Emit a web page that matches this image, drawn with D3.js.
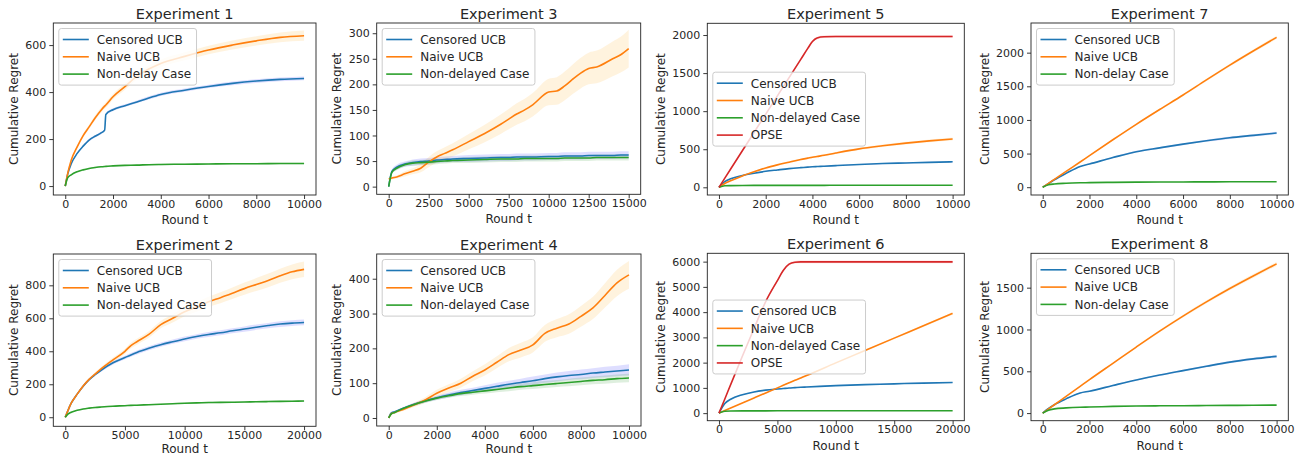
<!DOCTYPE html>
<html>
<head>
<meta charset="utf-8">
<script src="https://cdn.jsdelivr.net/npm/d3@7"></script>
<style>
  body { margin: 0; background: #fff; }
  svg { display: block; font-family: "DejaVu Sans", sans-serif; }
</style>
</head>
<body>
<div id="chart"></div>
<script>
// ---- data ----
var exp1T = [0, 100, 250, 500, 750, 1000, 1250, 1500, 1650, 1700, 2000, 2500, 3000, 3500, 4000, 5000, 6000, 7000, 8000, 9000, 10000];
var exp1Censored = [0, 50, 95, 139, 170, 196, 212, 226, 238, 305, 325, 342, 358, 375, 390, 408, 424, 437, 447, 454, 458];
var exp1Naive = [0, 52, 110, 167, 215, 252, 290, 323, 340, 345, 380, 423, 468, 498, 522, 552, 579, 600, 618, 633, 640];
var exp1NonDelay = [0, 35, 48, 61, 69, 75, 79, 82, 83, 84, 86, 88, 89, 91, 92, 93, 94, 95, 95, 96, 96];
var exp1CensoredBand = [0, 2, 3, 4, 4, 5, 5, 5, 5, 6, 6, 6, 6, 7, 7, 7, 7, 8, 8, 8, 8];
var exp1NaiveBand = [0, 3, 5, 7, 8, 9, 10, 11, 11, 12, 12, 13, 14, 15, 16, 17, 18, 19, 20, 21, 22];
var exp1NonDelayBand = [0, 2, 2, 2, 2, 3, 3, 3, 3, 3, 3, 3, 3, 3, 3, 3, 3, 3, 3, 3, 3];

var exp3T = [0, 200, 500, 1000, 1500, 2000, 2500, 3000, 3500, 4000, 5000, 6000, 7000, 7500, 8000, 8500, 9000, 10000, 10500, 11000, 11500, 12000, 12500, 13000, 14000, 14500, 15000];
var exp3Censored = [0, 30, 38, 44, 47, 49, 50, 52, 53, 54, 55, 56, 57, 57, 58, 58, 58, 59, 59, 60, 60, 60, 61, 61, 61, 62, 62];
var exp3Naive = [15, 17, 19, 25, 30, 36, 48, 58, 65, 72, 88, 104, 122, 132, 142, 150, 160, 185, 187, 197, 210, 222, 231, 234, 250, 258, 270];
var exp3NonDelayed = [0, 28, 36, 43, 46, 47, 48, 49, 50, 51, 52, 53, 54, 54, 54, 55, 55, 55, 55, 56, 56, 56, 56, 57, 57, 57, 57];
var exp3CensoredBand = [0, 4, 5, 5, 6, 6, 6, 6, 6, 6, 7, 7, 7, 7, 7, 7, 7, 7, 7, 7, 7, 7, 7, 7, 7, 7, 7];
var exp3NaiveBand = [2, 3, 3, 5, 6, 8, 10, 11, 12, 13, 15, 17, 19, 20, 21, 22, 23, 26, 27, 28, 29, 30, 31, 32, 34, 35, 37];
var exp3NonDelayedBand = [0, 3, 4, 4, 5, 5, 5, 5, 5, 5, 6, 6, 6, 6, 6, 6, 6, 6, 6, 6, 6, 6, 6, 6, 6, 6, 6];

var exp5T = [0, 250, 500, 1000, 1500, 2000, 2500, 3000, 3500, 3800, 4000, 4200, 4500, 5000, 6000, 7000, 8000, 9000, 10000];
var exp5Censored = [0, 75, 112, 155, 185, 210, 228, 245, 258, 265, 270, 273, 277, 285, 300, 312, 320, 328, 335];
var exp5Naive = [0, 50, 85, 150, 205, 255, 295, 330, 365, 383, 395, 405, 420, 450, 505, 545, 580, 610, 635];
var exp5NonDelayed = [0, 20, 22, 24, 25, 25, 25, 26, 26, 26, 26, 26, 26, 27, 27, 27, 28, 28, 28];
var exp5Opse = [0, 120, 240, 480, 720, 960, 1200, 1440, 1680, 1824, 1915, 1962, 1978, 1980, 1980, 1980, 1980, 1980, 1980];
var exp5CensoredBand = [0, 3, 4, 5, 5, 6, 6, 6, 6, 6, 7, 7, 7, 7, 7, 8, 8, 8, 8];
var exp5NaiveBand = [0, 3, 5, 7, 8, 9, 10, 11, 12, 12, 13, 13, 13, 14, 15, 16, 17, 18, 20];
var exp5NonDelayedBand = [0, 2, 2, 3, 3, 3, 3, 3, 3, 3, 3, 3, 3, 3, 3, 3, 3, 3, 3];
var exp5OpseBand = [0, 5, 8, 10, 12, 13, 14, 15, 15, 16, 16, 16, 16, 16, 16, 16, 16, 16, 16];

var exp7T = [0, 250, 500, 1000, 1600, 2000, 3000, 4000, 5000, 6000, 7000, 8000, 9000, 10000];
var exp7Censored = [0, 55, 110, 205, 308, 345, 440, 528, 585, 640, 690, 735, 770, 805];
var exp7Naive = [0, 58, 117, 235, 375, 470, 705, 935, 1155, 1370, 1595, 1815, 2025, 2228];
var exp7NonDelay = [0, 35, 48, 58, 65, 68, 72, 75, 77, 78, 79, 80, 80, 80];
var exp7CensoredBand = [0, 3, 4, 6, 8, 9, 11, 13, 14, 15, 16, 17, 18, 19];
var exp7NaiveBand = [0, 3, 4, 6, 8, 9, 11, 13, 15, 17, 19, 21, 23, 25];
var exp7NonDelayBand = [0, 2, 3, 3, 3, 4, 4, 4, 4, 4, 4, 4, 4, 4];

var exp2T = [0, 250, 500, 1000, 1500, 2000, 2500, 3000, 4000, 5000, 5500, 6000, 7000, 8000, 9000, 10000, 11000, 12000, 13000, 14000, 15000, 16000, 17000, 18000, 19000, 20000];
var exp2Censored = [0, 45, 85, 140, 188, 228, 258, 285, 330, 362, 378, 393, 418, 440, 458, 475, 490, 502, 512, 524, 535, 546, 556, 565, 571, 575];
var exp2Naive = [0, 45, 85, 140, 190, 230, 262, 293, 348, 400, 435, 458, 502, 562, 600, 640, 668, 700, 725, 752, 780, 805, 830, 858, 882, 897];
var exp2NonDelayed = [0, 20, 30, 42, 50, 55, 59, 62, 67, 70, 72, 73, 76, 79, 82, 85, 87, 89, 90, 91, 92, 94, 95, 96, 97, 98];
var exp2CensoredBand = [0, 3, 5, 6, 7, 8, 8, 9, 10, 11, 11, 12, 12, 13, 13, 14, 14, 15, 15, 15, 16, 16, 16, 17, 17, 17];
var exp2NaiveBand = [0, 3, 5, 7, 9, 10, 11, 12, 14, 16, 17, 18, 20, 22, 25, 27, 29, 31, 33, 35, 37, 39, 41, 43, 45, 47];
var exp2NonDelayedBand = [0, 2, 3, 3, 3, 4, 4, 4, 4, 4, 4, 4, 4, 4, 4, 5, 5, 5, 5, 5, 5, 5, 5, 5, 5, 5];

var exp4T = [0, 100, 250, 500, 1000, 1500, 2000, 2500, 3000, 3500, 4000, 4500, 5000, 5500, 6000, 6500, 7000, 7500, 8000, 8500, 9000, 9500, 10000];
var exp4Censored = [0, 14, 18, 25, 38, 49, 58, 66, 73, 79, 85, 91, 97, 102, 107, 113, 118, 122, 125, 129, 132, 135, 138];
var exp4Naive = [0, 12, 16, 22, 36, 51, 71, 86, 100, 120, 138, 160, 182, 195, 210, 243, 258, 270, 292, 316, 352, 388, 411];
var exp4NonDelayed = [0, 11, 16, 24, 37, 48, 57, 64, 70, 74, 78, 82, 86, 90, 93, 96, 99, 102, 105, 108, 110, 113, 115];
var exp4CensoredBand = [0, 2, 2, 3, 4, 5, 6, 7, 8, 8, 9, 10, 10, 11, 12, 12, 13, 13, 14, 14, 15, 15, 16];
var exp4NaiveBand = [0, 2, 3, 4, 6, 8, 10, 11, 13, 14, 16, 17, 19, 21, 22, 24, 26, 28, 30, 32, 35, 38, 40];
var exp4NonDelayedBand = [0, 2, 2, 3, 4, 5, 5, 6, 7, 7, 8, 8, 9, 9, 10, 10, 10, 11, 11, 11, 12, 12, 12];

var exp6T = [0, 500, 1000, 2000, 3000, 4000, 5000, 5500, 6000, 6500, 7000, 7500, 10000, 12500, 15000, 17500, 20000];
var exp6Censored = [0, 380, 550, 730, 840, 910, 955, 975, 995, 1010, 1025, 1035, 1090, 1130, 1160, 1190, 1210];
var exp6Naive = [0, 100, 200, 400, 600, 800, 1000, 1100, 1200, 1300, 1395, 1490, 1990, 2480, 2970, 3460, 3950];
var exp6NonDelayed = [0, 75, 85, 88, 90, 91, 92, 92, 92, 93, 93, 93, 94, 94, 95, 95, 95];
var exp6Opse = [0, 560, 1130, 2250, 3350, 4420, 5250, 5650, 5900, 5975, 5990, 5990, 5990, 5990, 5990, 5990, 5990];
var exp6CensoredBand = [0, 15, 18, 20, 20, 20, 20, 20, 20, 20, 20, 20, 20, 20, 20, 20, 20];
var exp6NaiveBand = [0, 5, 8, 12, 15, 18, 20, 21, 22, 23, 24, 25, 30, 35, 40, 45, 50];
var exp6NonDelayedBand = [0, 8, 8, 8, 8, 8, 8, 8, 8, 8, 8, 8, 8, 8, 8, 8, 8];
var exp6OpseBand = [0, 20, 30, 40, 45, 50, 50, 50, 50, 50, 50, 50, 50, 50, 50, 50, 50];

var exp8T = [0, 250, 500, 1000, 1600, 2000, 3000, 4000, 5000, 6000, 7000, 8000, 9000, 10000];
var exp8Censored = [0, 55, 100, 170, 240, 262, 330, 396, 455, 508, 560, 610, 648, 678];
var exp8Naive = [0, 50, 100, 200, 320, 400, 595, 790, 980, 1160, 1330, 1490, 1640, 1785];
var exp8NonDelay = [0, 35, 50, 62, 70, 72, 80, 85, 87, 88, 90, 92, 94, 95];
var exp8CensoredBand = [0, 3, 4, 5, 6, 7, 8, 9, 10, 11, 12, 13, 14, 15];
var exp8NaiveBand = [0, 3, 4, 6, 8, 9, 11, 13, 15, 17, 19, 21, 23, 25];
var exp8NonDelayBand = [0, 2, 3, 3, 3, 3, 4, 4, 4, 4, 4, 4, 4, 4];

// tick labels and axis limits
var ticks10k = [0, 2000, 4000, 6000, 8000, 10000];
var ticks15k = [0, 2500, 5000, 7500, 10000, 12500, 15000];
var ticks20k = [0, 5000, 10000, 15000, 20000];
var exp1YTicks = [0, 200, 400, 600];
var exp3YTicks = [0, 50, 100, 150, 200, 250, 300];
var exp5YTicks = [0, 500, 1000, 1500, 2000];
var exp7YTicks = [0, 500, 1000, 1500, 2000];
var exp2YTicks = [0, 200, 400, 600, 800];
var exp4YTicks = [0, 100, 200, 300, 400];
var exp6YTicks = [0, 1000, 2000, 3000, 4000, 5000, 6000];
var exp8YTicks = [0, 500, 1000, 1500];
var exp1YLim = [-38, 694], exp3YLim = [-15, 320], exp5YLim = [-101, 2154], exp7YLim = [-116, 2441];
var exp2YLim = [-55, 990], exp4YLim = [-23, 471], exp6YLim = [-300, 6330], exp8YLim = [-91, 1911];

var blue = "#1f77b4", orange = "#ff7f0e", green = "#2ca02c", red = "#d62728";

function s(name, color, fill, values, band) {
  return {name: name, color: color, fill: fill, values: values, band: band};
}

// axes boxes: [left, top, right, bottom]
var panels = [
  {title: "Experiment 1", box: [53.3, 23, 316, 195], xMax: 10000, xTicks: ticks10k, yLim: exp1YLim, yTicks: exp1YTicks, t: exp1T, legend: "upper",
   series: [s("Censored UCB", blue, "blue", exp1Censored, exp1CensoredBand), s("Naive UCB", orange, "orange", exp1Naive, exp1NaiveBand), s("Non-delay Case", green, "green", exp1NonDelay, exp1NonDelayBand)]},
  {title: "Experiment 3", box: [376.7, 23, 640.7, 194.3], xMax: 15000, xTicks: ticks15k, yLim: exp3YLim, yTicks: exp3YTicks, t: exp3T, legend: "upper",
   series: [s("Censored UCB", blue, "blue", exp3Censored, exp3CensoredBand), s("Naive UCB", orange, "orange", exp3Naive, exp3NaiveBand), s("Non-delayed Case", green, "green", exp3NonDelayed, exp3NonDelayedBand)]},
  {title: "Experiment 5", box: [707.3, 23.3, 964.3, 195], xMax: 10000, xTicks: ticks10k, yLim: exp5YLim, yTicks: exp5YTicks, t: exp5T, legend: "center",
   series: [s("Censored UCB", blue, "blue", exp5Censored, exp5CensoredBand), s("Naive UCB", orange, "orange", exp5Naive, exp5NaiveBand), s("Non-delayed Case", green, "green", exp5NonDelayed, exp5NonDelayedBand), s("OPSE", red, "red", exp5Opse, exp5OpseBand)]},
  {title: "Experiment 7", box: [1031, 23, 1288.3, 195], xMax: 10000, xTicks: ticks10k, yLim: exp7YLim, yTicks: exp7YTicks, t: exp7T, legend: "upper",
   series: [s("Censored UCB", blue, "blue", exp7Censored, exp7CensoredBand), s("Naive UCB", orange, "orange", exp7Naive, exp7NaiveBand), s("Non-delay Case", green, "green", exp7NonDelay, exp7NonDelayBand)]},
  {title: "Experiment 2", box: [53.3, 254, 316, 426.3], xMax: 20000, xTicks: ticks20k, yLim: exp2YLim, yTicks: exp2YTicks, t: exp2T, legend: "upper",
   series: [s("Censored UCB", blue, "blue", exp2Censored, exp2CensoredBand), s("Naive UCB", orange, "orange", exp2Naive, exp2NaiveBand), s("Non-delayed Case", green, "green", exp2NonDelayed, exp2NonDelayedBand)]},
  {title: "Experiment 4", box: [376.7, 254, 641, 426], xMax: 10000, xTicks: ticks10k, yLim: exp4YLim, yTicks: exp4YTicks, t: exp4T, legend: "upper",
   series: [s("Censored UCB", blue, "blue", exp4Censored, exp4CensoredBand), s("Naive UCB", orange, "orange", exp4Naive, exp4NaiveBand), s("Non-delayed Case", green, "green", exp4NonDelayed, exp4NonDelayedBand)]},
  {title: "Experiment 6", box: [707.3, 253.3, 964.3, 420.7], xMax: 20000, xTicks: ticks20k, yLim: exp6YLim, yTicks: exp6YTicks, t: exp6T, legend: "center",
   series: [s("Censored UCB", blue, "blue", exp6Censored, exp6CensoredBand), s("Naive UCB", orange, "orange", exp6Naive, exp6NaiveBand), s("Non-delayed Case", green, "green", exp6NonDelayed, exp6NonDelayedBand), s("OPSE", red, "red", exp6Opse, exp6OpseBand)]},
  {title: "Experiment 8", box: [1031, 253.3, 1288.3, 420.7], xMax: 10000, xTicks: ticks10k, yLim: exp8YLim, yTicks: exp8YTicks, t: exp8T, legend: "upper",
   series: [s("Censored UCB", blue, "blue", exp8Censored, exp8CensoredBand), s("Naive UCB", orange, "orange", exp8Naive, exp8NaiveBand), s("Non-delay Case", green, "green", exp8NonDelay, exp8NonDelayBand)]}
];

var tickFont = 11, labelFont = 12;

var svg = d3.select("#chart").append("svg")
    .attr("width", 1297)
    .attr("height", 456);

svg.append("rect").attr("width", 1297).attr("height", 456).attr("fill", "#fff");

panels.forEach(function(p) {
  var left = p.box[0], top = p.box[1], right = p.box[2], bottom = p.box[3];

  var x = d3.scaleLinear()
      .domain([-0.05 * p.xMax, 1.05 * p.xMax])
      .range([left, right]);
  var y = d3.scaleLinear()
      .domain(p.yLim)
      .range([bottom, top]);

  var g = svg.append("g");

  // bands first, then lines
  p.series.forEach(function(d) {
    var rows = p.t.map(function(t, i) { return {t: t, v: d.values[i], b: d.band[i]}; });
    var area = d3.area()
        .x(function(r) { return x(r.t); })
        .y0(function(r) { return y(r.v - r.b); })
        .y1(function(r) { return y(r.v + r.b); })
        .curve(d3.curveMonotoneX);
    g.append("path")
        .attr("d", area(rows))
        .attr("fill", d.fill)
        .attr("fill-opacity", 0.13);
  });

  p.series.forEach(function(d) {
    var rows = p.t.map(function(t, i) { return {t: t, v: d.values[i]}; });
    var line = d3.line()
        .x(function(r) { return x(r.t); })
        .y(function(r) { return y(r.v); })
        .curve(d3.curveMonotoneX);
    g.append("path")
        .attr("d", line(rows))
        .attr("fill", "none")
        .attr("stroke", d.color)
        .attr("stroke-width", 1.6);
  });

  // axes
  var xAxis = d3.axisBottom(x).tickValues(p.xTicks).tickFormat(d3.format("d")).tickSizeOuter(0).tickSize(4).tickPadding(1);
  var yAxis = d3.axisLeft(y).tickValues(p.yTicks).tickFormat(d3.format("d")).tickSizeOuter(0).tickSize(4).tickPadding(3);

  var gx = g.append("g")
      .attr("transform", "translate(0," + bottom + ")")
      .call(xAxis);
  var gy = g.append("g")
      .attr("transform", "translate(" + left + ",0)")
      .call(yAxis);

  [gx, gy].forEach(function(a) {
    a.select(".domain").remove();
    a.selectAll("line").attr("stroke", "#222").attr("stroke-width", 0.9);
    a.selectAll("text")
        .attr("fill", "#262626")
        .style("font-family", "DejaVu Sans")
        .style("font-size", tickFont + "px");
  });

  // frame
  g.append("rect")
      .attr("x", left).attr("y", top)
      .attr("width", right - left).attr("height", bottom - top)
      .attr("fill", "none")
      .attr("stroke", "#222")
      .attr("stroke-width", 0.9);

  // title and labels
  g.append("text")
      .attr("x", (left + right) / 2)
      .attr("y", top - 4.5)
      .attr("text-anchor", "middle")
      .attr("fill", "#262626")
      .style("font-size", "14.5px")
      .text(p.title);

  g.append("text")
      .attr("x", (left + right) / 2)
      .attr("y", Math.min(bottom + 29, 452.5))
      .attr("text-anchor", "middle")
      .attr("fill", "#262626")
      .style("font-size", labelFont + "px")
      .text("Round t");

  var tickBox = gy.node().getBBox();
  var labelX = left + tickBox.x - 7.5;
  g.append("text")
      .attr("transform", "translate(" + labelX + "," + ((top + bottom) / 2) + ") rotate(-90)")
      .attr("text-anchor", "middle")
      .attr("fill", "#262626")
      .style("font-size", labelFont + "px")
      .text("Cumulative Regret");

  // legend
  var n = p.series.length;
  var rowGap = 17.3, padY = 11;
  var legH = padY * 2 + rowGap * (n - 1);
  var legX = left + 5.5;
  var legY = p.legend === "upper" ? top + 5.5 : (top + bottom) / 2 - legH / 2;

  var leg = g.append("g");
  var box = leg.append("rect")
      .attr("x", legX).attr("y", legY)
      .attr("height", legH)
      .attr("rx", 2.5)
      .attr("fill", "#fff")
      .attr("fill-opacity", 0.8)
      .attr("stroke", "#cccccc")
      .attr("stroke-width", 1);

  var maxW = 0;
  p.series.forEach(function(d, i) {
    var cy = legY + padY + i * rowGap;
    leg.append("line")
        .attr("x1", legX + 4).attr("x2", legX + 30)
        .attr("y1", cy).attr("y2", cy)
        .attr("stroke", d.color)
        .attr("stroke-width", 1.6);
    var t = leg.append("text")
        .attr("x", legX + 38)
        .attr("y", cy)
        .attr("dy", "0.36em")
        .attr("fill", "#262626")
        .style("font-size", labelFont + "px")
        .text(d.name);
    maxW = Math.max(maxW, t.node().getComputedTextLength());
  });
  box.attr("width", 38 + maxW + 5.5);
});
</script>
</body>
</html>
